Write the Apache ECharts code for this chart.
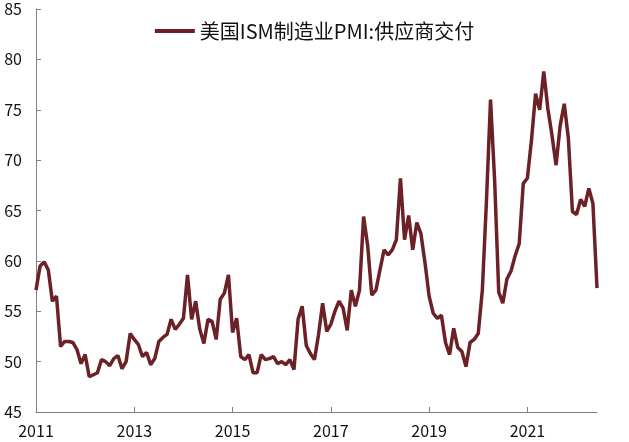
<!DOCTYPE html>
<html>
<head>
<meta charset="utf-8">
<script src="https://cdn.jsdelivr.net/npm/echarts@6/dist/echarts.min.js"></script>
<style>html,body{margin:0;padding:0;background:#fff}#c{width:629px;height:442px}</style>
</head>
<body>
<div id="c"></div>
<script>
var seriesName = '美国ISM制造业PMI:供应商交付';
var startYear = 2011;
var monthCount = 138;
var yTicks = [45, 50, 55, 60, 65, 70, 75, 80, 85];
var supplierDeliveries = [
  57.1, 59.5, 59.9, 59.1, 56.0, 56.5, 51.5, 52.0, 52.0, 51.9, 51.2, 49.8,
  50.7, 48.5, 48.7, 48.9, 50.2, 50.0, 49.6, 50.3, 50.6, 49.3, 50.0, 52.8,
  52.2, 51.7, 50.5, 50.9, 49.7, 50.3, 52.0, 52.4, 52.7, 54.2, 53.2, 53.7,
  54.3, 58.6, 54.2, 56.0, 53.2, 51.8, 54.2, 54.0, 52.2, 56.2, 56.8, 58.6,
  52.9, 54.3, 50.5, 50.2, 50.7, 48.9, 48.9, 50.7, 50.2, 50.3, 50.5, 49.8,
  50.0, 49.7, 50.2, 49.2, 54.2, 55.5, 51.6, 50.8, 50.2, 52.7, 55.8, 53.0,
  53.7, 55.0, 56.0, 55.3, 53.1, 57.1, 55.5, 57.1, 64.4, 61.5, 56.6, 57.1,
  59.1, 61.1, 60.6, 61.1, 62.1, 68.2, 62.1, 64.5, 61.1, 63.8, 62.7, 59.8,
  56.5, 54.8, 54.3, 54.6, 51.9, 50.7, 53.3, 51.4, 51.0, 49.5, 51.9, 52.2,
  52.8, 57.1, 65.9, 76.0, 68.0, 56.9, 55.8, 58.2, 59.0, 60.5, 61.7, 67.7,
  68.2, 72.0, 76.6, 75.0, 78.8, 75.1, 72.5, 69.5, 73.4, 75.6, 72.2, 64.9,
  64.6, 66.1, 65.4, 67.2, 65.7, 57.3
];
var categories = [];
for (var i = 0; i < monthCount; i++) {
  var y = startYear + Math.floor(i / 12);
  var m = (i % 12) + 1;
  categories.push(y + '-' + (m < 10 ? '0' + m : m));
}
var fontFam = "'Liberation Sans Narrow', 'Noto Sans CJK SC', sans-serif";
var chart = echarts.init(document.getElementById('c'), null, {renderer: 'canvas'});
chart.setOption({
  animation: false,
  backgroundColor: '#fff',
  grid: {left: 36, right: 32, top: 9, bottom: 30, containLabel: false},
  legend: {
    data: [seriesName],
    top: 16,
    left: 'center',
    icon: 'rect',
    itemWidth: 40,
    itemHeight: 4,
    itemGap: 6,
    textStyle: {fontSize: 20, color: '#111', fontFamily: fontFam}
  },
  xAxis: {
    type: 'category',
    data: categories,
    boundaryGap: false,
    axisLine: {lineStyle: {color: '#808080', width: 1}},
    axisTick: {inside: true, length: 5, interval: 23, lineStyle: {color: '#808080'}},
    axisLabel: {
      interval: 23, margin: 11, fontSize: 16, color: '#111', fontFamily: fontFam,
      formatter: function (v) { return v.slice(0, 4); }
    },
    splitLine: {show: false}
  },
  yAxis: {
    type: 'value',
    min: yTicks[0],
    max: yTicks[yTicks.length - 1],
    interval: 5,
    axisLine: {show: true, lineStyle: {color: '#808080', width: 1}},
    axisTick: {show: true, inside: true, length: 5, lineStyle: {color: '#808080'}},
    axisLabel: {margin: 14, fontSize: 16, color: '#111', fontFamily: fontFam},
    splitLine: {show: false}
  },
  series: [{
    name: seriesName,
    type: 'line',
    data: supplierDeliveries,
    showSymbol: false,
    symbol: 'none',
    lineStyle: {color: '#6B2126', width: 3.5},
    itemStyle: {color: '#6B2126'}
  }]
});
</script>
</body>
</html>
